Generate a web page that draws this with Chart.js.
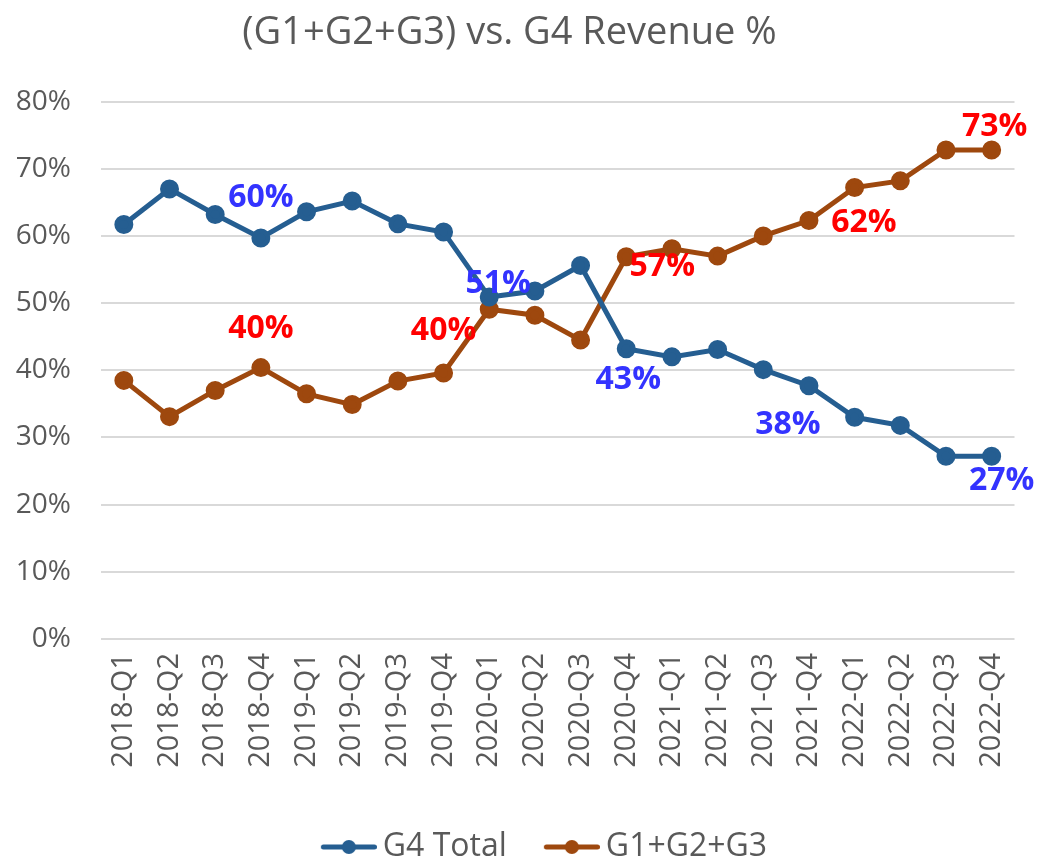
<!DOCTYPE html>
<html>
<head>
<meta charset="utf-8">
<script src="https://cdn.jsdelivr.net/npm/chart.js@4.4.1/dist/chart.umd.min.js"></script>
<style>
  html, body { margin: 0; padding: 0; background: #fff; }
  #wrap { width: 1041px; height: 862px; position: relative; }
</style>
</head>
<body>
<div id="wrap"><canvas id="revenue-chart"></canvas></div>
<script>
// Categories and series values (percent)
const quarters = [
  '2018-Q1', '2018-Q2', '2018-Q3', '2018-Q4',
  '2019-Q1', '2019-Q2', '2019-Q3', '2019-Q4',
  '2020-Q1', '2020-Q2', '2020-Q3', '2020-Q4',
  '2021-Q1', '2021-Q2', '2021-Q3', '2021-Q4',
  '2022-Q1', '2022-Q2', '2022-Q3', '2022-Q4'
];
const g4Total = [61.7, 67.0, 63.2, 59.7, 63.6, 65.2, 61.8, 60.6, 50.9, 51.8, 55.6, 43.2, 42.0, 43.1, 40.1, 37.7, 33.0, 31.8, 27.2, 27.2];
const g123Total = [38.5, 33.1, 37.0, 40.4, 36.5, 34.9, 38.4, 39.6, 49.1, 48.2, 44.5, 56.9, 58.1, 57.0, 60.0, 62.3, 67.2, 68.2, 72.8, 72.8];
const yTicks = [0, 10, 20, 30, 40, 50, 60, 70, 80];

// Which points get a value label
const g4LabelIdx = [3, 8, 11, 15, 19];
const g123LabelIdx = [3, 7, 11, 15, 19];

const FONT = "'Open Sans', sans-serif";
const GREY = '#595959';
const BLUE = '#255E91';
const ORANGE = '#9E480E';

// Offsets of labels from their points (dx, dy)
const labelOffsets = [
  { 3: [0, -40], 8: [9, -13], 11: [2, 31], 15: [-21, 39], 19: [10, 25] },
  { 3: [0, -39], 7: [0, -42], 11: [36, 10], 15: [55, 2], 19: [3, -23] }
];
const labelColors = ['#3333FF', '#FF0000'];

// Draws the selected percent labels
const pointLabels = {
  id: 'pointLabels',
  afterDatasetsDraw(chart) {
    const ctx = chart.ctx;
    const lists = [g4LabelIdx, g123LabelIdx];
    ctx.save();
    ctx.font = 'bold 32px ' + FONT;
    ctx.textAlign = 'center';
    ctx.textBaseline = 'middle';
    chart.data.datasets.forEach((ds, d) => {
      const meta = chart.getDatasetMeta(d);
      ctx.fillStyle = labelColors[d];
      lists[d].forEach((i) => {
        const pt = meta.data[i];
        const off = labelOffsets[d][i];
        ctx.fillText(Math.round(ds.data[i]) + '%', pt.x + off[0], pt.y + off[1]);
      });
    });
    ctx.restore();
  }
};

// Nudge the legend a bit to the right, as in the original
const legendShift = {
  id: 'legendShift',
  afterLayout(chart) {
    chart.legend.left += 17;
    chart.legend.right += 17;
  }
};

// Legend marker: short line with a dot, like the Excel one.
// Left part is blank so the two legend items sit apart.
const makeMarker = (color) => {
  const c = document.createElement('canvas');
  c.width = 101; c.height = 16;
  const g = c.getContext('2d');
  g.strokeStyle = color;
  g.lineWidth = 5;
  g.lineCap = 'round';
  g.beginPath(); g.moveTo(47.5, 8); g.lineTo(98.5, 8); g.stroke();
  g.fillStyle = color;
  g.beginPath(); g.arc(73, 8, 7, 0, Math.PI * 2); g.fill();
  return c;
};

const chart = new Chart(document.querySelector('#revenue-chart'), {
  type: 'line',
  data: {
    labels: quarters,
    datasets: [{
      label: 'G4 Total',
      data: g4Total,
      borderColor: BLUE,
      backgroundColor: BLUE,
      borderWidth: 5,
      pointRadius: 7,
      pointHoverRadius: 7,
      tension: 0
    }, {
      label: 'G1+G2+G3',
      data: g123Total,
      borderColor: ORANGE,
      backgroundColor: ORANGE,
      borderWidth: 5,
      pointRadius: 7,
      pointHoverRadius: 7,
      tension: 0
    }]
  },
  options: {
    responsive: true,
    maintainAspectRatio: false,
    animation: false,
    layout: { padding: { left: 0, right: 22, top: 0, bottom: -11 } },
    scales: {
      x: {
        offset: true,
        grid: { display: false, drawTicks: false },
        border: { display: false },
        afterFit: (axis) => { axis.height = 190; },
        ticks: {
          color: GREY,
          font: { family: FONT, size: 29 },
          minRotation: 90,
          maxRotation: 90,
          autoSkip: false,
          padding: 14
        }
      },
      y: {
        min: 0,
        max: 80,
        afterBuildTicks: (axis) => { axis.ticks = yTicks.map((v) => ({ value: v })); },
        afterFit: (axis) => { axis.width = 101; },
        grid: { color: '#D9D9D9', lineWidth: 2, drawTicks: false },
        border: { display: false },
        ticks: {
          color: GREY,
          font: { family: FONT, size: 28 },
          padding: 30,
          callback: (v) => v + '%'
        }
      }
    },
    plugins: {
      title: {
        display: true,
        text: '(G1+G2+G3) vs. G4 Revenue %',
        color: GREY,
        font: { family: FONT, size: 38, weight: 'normal' },
        padding: { top: 10, bottom: 46 }
      },
      legend: {
        position: 'bottom',
        labels: {
          color: GREY,
          font: { family: FONT, size: 32 },
          usePointStyle: true,
          pointStyleWidth: 81,
          padding: 2,
          generateLabels: (ch) => ch.data.datasets.map((ds, i) => ({
            text: ds.label,
            fontColor: GREY,
            pointStyle: makeMarker(ds.borderColor),
            strokeStyle: ds.borderColor,
            fillStyle: ds.borderColor,
            lineWidth: 0,
            datasetIndex: i
          }))
        }
      },
      tooltip: { enabled: false }
    }
  },
  plugins: [pointLabels, legendShift]
});
</script>
</body>
</html>
